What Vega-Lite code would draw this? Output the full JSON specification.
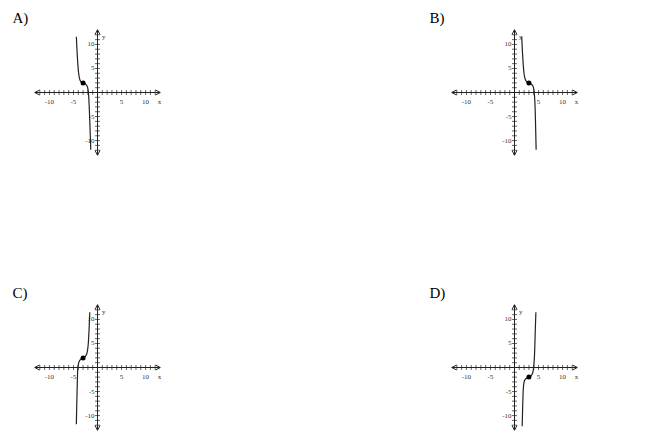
{
  "$schema": "https://vega.github.io/schema/vega-lite/v6.json",
  "background": "white",
  "padding": {"left": 12, "top": 11, "right": 5, "bottom": 5},
  "config": {"view": {"stroke": null}},
  "datasets": {
    "axes": [{"x": -13, "x2": 13, "y": 0, "y2": 0}, {"x": 0, "x2": 0, "y": -13, "y2": 13}],
    "arrows": [{"x": 12.55, "y": 0, "dir": "right"}, {"x": -12.55, "y": 0, "dir": "left"}, {"x": 0, "y": 12.55, "dir": "up"}, {"x": 0, "y": -12.55, "dir": "down"}],
    "xticks": [{"x": -12, "y": 0}, {"x": -11, "y": 0}, {"x": -10, "y": 0}, {"x": -9, "y": 0}, {"x": -8, "y": 0}, {"x": -7, "y": 0}, {"x": -6, "y": 0}, {"x": -5, "y": 0}, {"x": -4, "y": 0}, {"x": -3, "y": 0}, {"x": -2, "y": 0}, {"x": -1, "y": 0}, {"x": 1, "y": 0}, {"x": 2, "y": 0}, {"x": 3, "y": 0}, {"x": 4, "y": 0}, {"x": 5, "y": 0}, {"x": 6, "y": 0}, {"x": 7, "y": 0}, {"x": 8, "y": 0}, {"x": 9, "y": 0}, {"x": 10, "y": 0}, {"x": 11, "y": 0}, {"x": 12, "y": 0}],
    "yticks": [{"x": 0, "y": -12}, {"x": 0, "y": -11}, {"x": 0, "y": -10}, {"x": 0, "y": -9}, {"x": 0, "y": -8}, {"x": 0, "y": -7}, {"x": 0, "y": -6}, {"x": 0, "y": -5}, {"x": 0, "y": -4}, {"x": 0, "y": -3}, {"x": 0, "y": -2}, {"x": 0, "y": -1}, {"x": 0, "y": 1}, {"x": 0, "y": 2}, {"x": 0, "y": 3}, {"x": 0, "y": 4}, {"x": 0, "y": 5}, {"x": 0, "y": 6}, {"x": 0, "y": 7}, {"x": 0, "y": 8}, {"x": 0, "y": 9}, {"x": 0, "y": 10}, {"x": 0, "y": 11}, {"x": 0, "y": 12}],
    "xlabels": [{"x": -10, "y": 0, "t": "-10"}, {"x": -5, "y": 0, "t": "-5"}, {"x": 5, "y": 0, "t": "5"}, {"x": 10, "y": 0, "t": "10"}, {"x": 12.9, "y": 0, "t": "x"}],
    "ylabels": [{"x": 0, "y": 10, "t": "10"}, {"x": 0, "y": 5, "t": "5"}, {"x": 0, "y": -5, "t": "-5"}, {"x": 0, "y": -10, "t": "-10"}],
    "names": [{"x": 1.3, "y": 11.6, "t": "y"}],
    "letters": [{"p": "A", "x": -17.7, "y": 15.4, "t": "A)"}, {"p": "B", "x": -17.7, "y": 15.4, "t": "B)"}, {"p": "C", "x": -17.7, "y": 15.4, "t": "C)"}, {"p": "D", "x": -17.7, "y": 15.4, "t": "D)"}],
    "dots": [{"p": "A", "x": -3, "y": 2}, {"p": "B", "x": 3, "y": 2}, {"p": "C", "x": -3, "y": 2}, {"p": "D", "x": 3, "y": -2}],
    "curves": [
      {"p": "A", "i": 0, "x": -4.4, "y": 11.6}, {"p": "A", "i": 1, "x": -4.25, "y": 8.5}, {"p": "A", "i": 2, "x": -4.1, "y": 6.0}, {"p": "A", "i": 3, "x": -3.9, "y": 3.8}, {"p": "A", "i": 4, "x": -3.65, "y": 2.6}, {"p": "A", "i": 5, "x": -3.35, "y": 2.15}, {"p": "A", "i": 6, "x": -3.0, "y": 2.0}, {"p": "A", "i": 7, "x": -2.65, "y": 1.85}, {"p": "A", "i": 8, "x": -2.35, "y": 1.6}, {"p": "A", "i": 9, "x": -2.05, "y": 1.0}, {"p": "A", "i": 10, "x": -1.85, "y": -0.5}, {"p": "A", "i": 11, "x": -1.7, "y": -3.5}, {"p": "A", "i": 12, "x": -1.55, "y": -7.5}, {"p": "A", "i": 13, "x": -1.4, "y": -11.9},
      {"p": "B", "i": 0, "x": 1.5, "y": 11.6}, {"p": "B", "i": 1, "x": 1.65, "y": 8.5}, {"p": "B", "i": 2, "x": 1.8, "y": 6.0}, {"p": "B", "i": 3, "x": 2.0, "y": 3.8}, {"p": "B", "i": 4, "x": 2.3, "y": 2.6}, {"p": "B", "i": 5, "x": 2.65, "y": 2.15}, {"p": "B", "i": 6, "x": 3.0, "y": 2.0}, {"p": "B", "i": 7, "x": 3.35, "y": 1.85}, {"p": "B", "i": 8, "x": 3.65, "y": 1.6}, {"p": "B", "i": 9, "x": 3.95, "y": 1.0}, {"p": "B", "i": 10, "x": 4.15, "y": -0.5}, {"p": "B", "i": 11, "x": 4.3, "y": -3.5}, {"p": "B", "i": 12, "x": 4.4, "y": -7.5}, {"p": "B", "i": 13, "x": 4.5, "y": -11.9},
      {"p": "C", "i": 0, "x": -4.4, "y": -11.8}, {"p": "C", "i": 1, "x": -4.3, "y": -7.0}, {"p": "C", "i": 2, "x": -4.2, "y": -3.0}, {"p": "C", "i": 3, "x": -4.1, "y": -0.3}, {"p": "C", "i": 4, "x": -3.9, "y": 1.0}, {"p": "C", "i": 5, "x": -3.6, "y": 1.6}, {"p": "C", "i": 6, "x": -3.3, "y": 1.85}, {"p": "C", "i": 7, "x": -3.0, "y": 2.0}, {"p": "C", "i": 8, "x": -2.65, "y": 2.2}, {"p": "C", "i": 9, "x": -2.35, "y": 2.6}, {"p": "C", "i": 10, "x": -2.1, "y": 3.4}, {"p": "C", "i": 11, "x": -1.9, "y": 5.2}, {"p": "C", "i": 12, "x": -1.75, "y": 8.0}, {"p": "C", "i": 13, "x": -1.6, "y": 11.5},
      {"p": "D", "i": 0, "x": 1.6, "y": -12.2}, {"p": "D", "i": 1, "x": 1.7, "y": -8.0}, {"p": "D", "i": 2, "x": 1.8, "y": -5.0}, {"p": "D", "i": 3, "x": 1.95, "y": -3.2}, {"p": "D", "i": 4, "x": 2.2, "y": -2.5}, {"p": "D", "i": 5, "x": 2.6, "y": -2.2}, {"p": "D", "i": 6, "x": 3.0, "y": -2.0}, {"p": "D", "i": 7, "x": 3.35, "y": -1.8}, {"p": "D", "i": 8, "x": 3.65, "y": -1.4}, {"p": "D", "i": 9, "x": 3.9, "y": -0.6}, {"p": "D", "i": 10, "x": 4.05, "y": 0.8}, {"p": "D", "i": 11, "x": 4.2, "y": 3.5}, {"p": "D", "i": 12, "x": 4.3, "y": 7.0}, {"p": "D", "i": 13, "x": 4.45, "y": 11.5}
    ]
  },
  "columns": 2,
  "spacing": {"row": 150, "column": 292},
  "bounds": "flush",
  "concat": [
    {
      "width": 125, "height": 125,
      "encoding": {
        "x": {"field": "x", "type": "quantitative", "scale": {"domain": [-13, 13], "nice": false, "zero": false}, "axis": null},
        "y": {"field": "y", "type": "quantitative", "scale": {"domain": [-13, 13], "nice": false, "zero": false}, "axis": null}
      },
      "layer": [
        {"data": {"name": "axes"}, "mark": {"type": "rule", "color": "#222", "strokeWidth": 1}, "encoding": {"x2": {"field": "x2"}, "y2": {"field": "y2"}}},
        {"data": {"name": "xticks"}, "mark": {"type": "tick", "orient": "vertical", "size": 5, "thickness": 1, "color": "#222"}, "encoding": {}},
        {"data": {"name": "yticks"}, "mark": {"type": "tick", "orient": "horizontal", "size": 5, "thickness": 1, "color": "#222"}, "encoding": {}},
        {"data": {"name": "arrows"}, "mark": {"type": "point", "filled": false, "size": 25, "strokeWidth": 1, "color": "#222", "opacity": 1}, "encoding": {"shape": {"field": "dir", "type": "nominal", "legend": null, "scale": {"domain": ["left", "right", "up", "down"], "range": ["M1,-1L-1,0L1,1", "M-1,-1L1,0L-1,1", "M-1,1L0,-1L1,1", "M-1,-1L0,1L1,-1"]}}}},
        {"data": {"name": "xlabels"}, "mark": {"type": "text", "font": "Liberation Serif", "fontSize": 7, "color": "#333", "dy": 9, "baseline": "middle"}, "encoding": {"text": {"field": "t"}}},
        {"data": {"name": "ylabels"}, "mark": {"type": "text", "font": "Liberation Serif", "fontSize": 7, "color": "#333", "dx": -3, "align": "right", "baseline": "middle"}, "encoding": {"text": {"field": "t"}}},
        {"data": {"name": "names"}, "mark": {"type": "text", "font": "Liberation Serif", "fontSize": 7, "color": "#333", "baseline": "middle"}, "encoding": {"text": {"field": "t"}}},
        {"data": {"name": "letters"}, "transform": [{"filter": "datum.p == 'A'"}], "mark": {"type": "text", "font": "Liberation Serif", "fontSize": 15, "color": "#000", "align": "left", "baseline": "middle"}, "encoding": {"text": {"field": "t"}}},
        {"data": {"name": "curves"}, "transform": [{"filter": "datum.p == 'A'"}], "mark": {"type": "line", "interpolate": "monotone", "color": "#222", "strokeWidth": 1.2}, "encoding": {"order": {"field": "i", "type": "quantitative"}}},
        {"data": {"name": "dots"}, "transform": [{"filter": "datum.p == 'A'"}], "mark": {"type": "point", "filled": true, "size": 25, "color": "#000", "opacity": 1}, "encoding": {}}
      ]
    },
    {
      "width": 125, "height": 125,
      "encoding": {
        "x": {"field": "x", "type": "quantitative", "scale": {"domain": [-13, 13], "nice": false, "zero": false}, "axis": null},
        "y": {"field": "y", "type": "quantitative", "scale": {"domain": [-13, 13], "nice": false, "zero": false}, "axis": null}
      },
      "layer": [
        {"data": {"name": "axes"}, "mark": {"type": "rule", "color": "#222", "strokeWidth": 1}, "encoding": {"x2": {"field": "x2"}, "y2": {"field": "y2"}}},
        {"data": {"name": "xticks"}, "mark": {"type": "tick", "orient": "vertical", "size": 5, "thickness": 1, "color": "#222"}, "encoding": {}},
        {"data": {"name": "yticks"}, "mark": {"type": "tick", "orient": "horizontal", "size": 5, "thickness": 1, "color": "#222"}, "encoding": {}},
        {"data": {"name": "arrows"}, "mark": {"type": "point", "filled": false, "size": 25, "strokeWidth": 1, "color": "#222", "opacity": 1}, "encoding": {"shape": {"field": "dir", "type": "nominal", "legend": null, "scale": {"domain": ["left", "right", "up", "down"], "range": ["M1,-1L-1,0L1,1", "M-1,-1L1,0L-1,1", "M-1,1L0,-1L1,1", "M-1,-1L0,1L1,-1"]}}}},
        {"data": {"name": "xlabels"}, "mark": {"type": "text", "font": "Liberation Serif", "fontSize": 7, "color": "#333", "dy": 9, "baseline": "middle"}, "encoding": {"text": {"field": "t"}}},
        {"data": {"name": "ylabels"}, "mark": {"type": "text", "font": "Liberation Serif", "fontSize": 7, "color": "#333", "dx": -3, "align": "right", "baseline": "middle"}, "encoding": {"text": {"field": "t"}}},
        {"data": {"name": "names"}, "mark": {"type": "text", "font": "Liberation Serif", "fontSize": 7, "color": "#333", "baseline": "middle"}, "encoding": {"text": {"field": "t"}}},
        {"data": {"name": "letters"}, "transform": [{"filter": "datum.p == 'B'"}], "mark": {"type": "text", "font": "Liberation Serif", "fontSize": 15, "color": "#000", "align": "left", "baseline": "middle"}, "encoding": {"text": {"field": "t"}}},
        {"data": {"name": "curves"}, "transform": [{"filter": "datum.p == 'B'"}], "mark": {"type": "line", "interpolate": "monotone", "color": "#222", "strokeWidth": 1.2}, "encoding": {"order": {"field": "i", "type": "quantitative"}}},
        {"data": {"name": "dots"}, "transform": [{"filter": "datum.p == 'B'"}], "mark": {"type": "point", "filled": true, "size": 25, "color": "#000", "opacity": 1}, "encoding": {}}
      ]
    },
    {
      "width": 125, "height": 125,
      "encoding": {
        "x": {"field": "x", "type": "quantitative", "scale": {"domain": [-13, 13], "nice": false, "zero": false}, "axis": null},
        "y": {"field": "y", "type": "quantitative", "scale": {"domain": [-13, 13], "nice": false, "zero": false}, "axis": null}
      },
      "layer": [
        {"data": {"name": "axes"}, "mark": {"type": "rule", "color": "#222", "strokeWidth": 1}, "encoding": {"x2": {"field": "x2"}, "y2": {"field": "y2"}}},
        {"data": {"name": "xticks"}, "mark": {"type": "tick", "orient": "vertical", "size": 5, "thickness": 1, "color": "#222"}, "encoding": {}},
        {"data": {"name": "yticks"}, "mark": {"type": "tick", "orient": "horizontal", "size": 5, "thickness": 1, "color": "#222"}, "encoding": {}},
        {"data": {"name": "arrows"}, "mark": {"type": "point", "filled": false, "size": 25, "strokeWidth": 1, "color": "#222", "opacity": 1}, "encoding": {"shape": {"field": "dir", "type": "nominal", "legend": null, "scale": {"domain": ["left", "right", "up", "down"], "range": ["M1,-1L-1,0L1,1", "M-1,-1L1,0L-1,1", "M-1,1L0,-1L1,1", "M-1,-1L0,1L1,-1"]}}}},
        {"data": {"name": "xlabels"}, "mark": {"type": "text", "font": "Liberation Serif", "fontSize": 7, "color": "#333", "dy": 9, "baseline": "middle"}, "encoding": {"text": {"field": "t"}}},
        {"data": {"name": "ylabels"}, "mark": {"type": "text", "font": "Liberation Serif", "fontSize": 7, "color": "#333", "dx": -3, "align": "right", "baseline": "middle"}, "encoding": {"text": {"field": "t"}}},
        {"data": {"name": "names"}, "mark": {"type": "text", "font": "Liberation Serif", "fontSize": 7, "color": "#333", "baseline": "middle"}, "encoding": {"text": {"field": "t"}}},
        {"data": {"name": "letters"}, "transform": [{"filter": "datum.p == 'C'"}], "mark": {"type": "text", "font": "Liberation Serif", "fontSize": 15, "color": "#000", "align": "left", "baseline": "middle"}, "encoding": {"text": {"field": "t"}}},
        {"data": {"name": "curves"}, "transform": [{"filter": "datum.p == 'C'"}], "mark": {"type": "line", "interpolate": "monotone", "color": "#222", "strokeWidth": 1.2}, "encoding": {"order": {"field": "i", "type": "quantitative"}}},
        {"data": {"name": "dots"}, "transform": [{"filter": "datum.p == 'C'"}], "mark": {"type": "point", "filled": true, "size": 25, "color": "#000", "opacity": 1}, "encoding": {}}
      ]
    },
    {
      "width": 125, "height": 125,
      "encoding": {
        "x": {"field": "x", "type": "quantitative", "scale": {"domain": [-13, 13], "nice": false, "zero": false}, "axis": null},
        "y": {"field": "y", "type": "quantitative", "scale": {"domain": [-13, 13], "nice": false, "zero": false}, "axis": null}
      },
      "layer": [
        {"data": {"name": "axes"}, "mark": {"type": "rule", "color": "#222", "strokeWidth": 1}, "encoding": {"x2": {"field": "x2"}, "y2": {"field": "y2"}}},
        {"data": {"name": "xticks"}, "mark": {"type": "tick", "orient": "vertical", "size": 5, "thickness": 1, "color": "#222"}, "encoding": {}},
        {"data": {"name": "yticks"}, "mark": {"type": "tick", "orient": "horizontal", "size": 5, "thickness": 1, "color": "#222"}, "encoding": {}},
        {"data": {"name": "arrows"}, "mark": {"type": "point", "filled": false, "size": 25, "strokeWidth": 1, "color": "#222", "opacity": 1}, "encoding": {"shape": {"field": "dir", "type": "nominal", "legend": null, "scale": {"domain": ["left", "right", "up", "down"], "range": ["M1,-1L-1,0L1,1", "M-1,-1L1,0L-1,1", "M-1,1L0,-1L1,1", "M-1,-1L0,1L1,-1"]}}}},
        {"data": {"name": "xlabels"}, "mark": {"type": "text", "font": "Liberation Serif", "fontSize": 7, "color": "#333", "dy": 9, "baseline": "middle"}, "encoding": {"text": {"field": "t"}}},
        {"data": {"name": "ylabels"}, "mark": {"type": "text", "font": "Liberation Serif", "fontSize": 7, "color": "#333", "dx": -3, "align": "right", "baseline": "middle"}, "encoding": {"text": {"field": "t"}}},
        {"data": {"name": "names"}, "mark": {"type": "text", "font": "Liberation Serif", "fontSize": 7, "color": "#333", "baseline": "middle"}, "encoding": {"text": {"field": "t"}}},
        {"data": {"name": "letters"}, "transform": [{"filter": "datum.p == 'D'"}], "mark": {"type": "text", "font": "Liberation Serif", "fontSize": 15, "color": "#000", "align": "left", "baseline": "middle"}, "encoding": {"text": {"field": "t"}}},
        {"data": {"name": "curves"}, "transform": [{"filter": "datum.p == 'D'"}], "mark": {"type": "line", "interpolate": "monotone", "color": "#222", "strokeWidth": 1.2}, "encoding": {"order": {"field": "i", "type": "quantitative"}}},
        {"data": {"name": "dots"}, "transform": [{"filter": "datum.p == 'D'"}], "mark": {"type": "point", "filled": true, "size": 25, "color": "#000", "opacity": 1}, "encoding": {}}
      ]
    }
  ]
}
